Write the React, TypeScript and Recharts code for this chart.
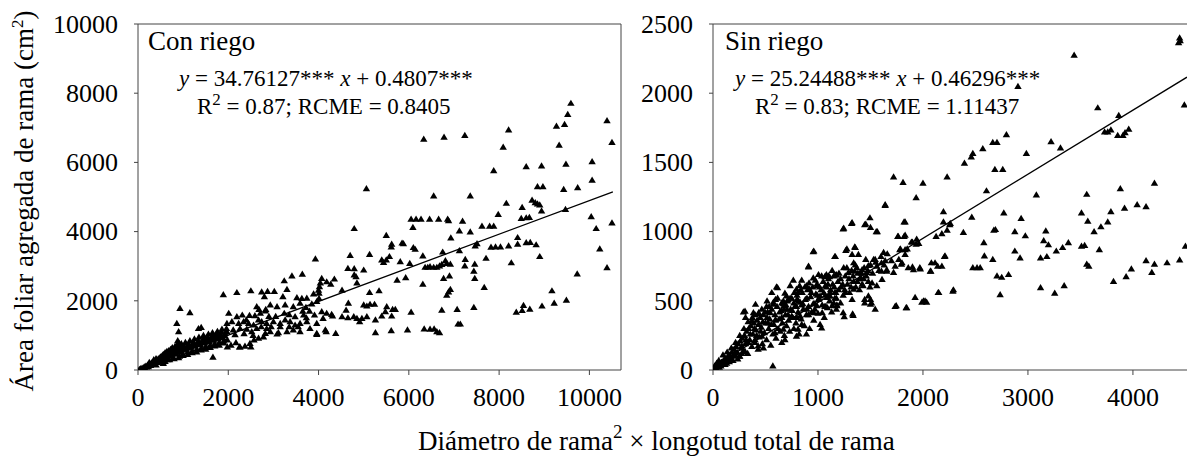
import React from "react";
import { ScatterChart, Scatter, XAxis, YAxis, ReferenceLine } from "recharts";

const FONT = '"Liberation Serif", "Times New Roman", Times, serif';

// ---------- Con riego (left panel) ----------
const conXTicks = [0, 2000, 4000, 6000, 8000, 10000];
const conYTicks = [0, 2000, 4000, 6000, 8000, 10000];
const conXMax = 10700;
const conYMax = 10000;
const conFit = [{ x: 0, y: 35 }, { x: 10520, y: 5150 }];

const conTop: [number, number][] = [
  [9590, 7710], [9520, 7390], [9270, 7050], [9450, 7100], [10390, 7210], [8210, 6940],
  [6330, 6670], [6780, 6730], [7240, 6780], [8090, 6440], [9330, 6500], [10500, 6580],
];

const conUpper: [number, number][] = [
  [10060, 6020], [9480, 5950], [8940, 5900], [8600, 5880], [7880, 5760], [10060, 5490], [8850, 5300],
  [8970, 5300], [9740, 5270], [9430, 5220], [5060, 5240], [6550, 5030], [7360, 5030], [8160, 4820],
  [8730, 4910], [8800, 4840], [8850, 4800], [8900, 4770], [8510, 4700], [9470, 4640], [8940, 4600],
  [7980, 4500], [8490, 4380], [8600, 4400], [8670, 4410], [10040, 4430], [6050, 4360], [6160, 4360],
  [6270, 4360], [6460, 4360], [6660, 4360], [6860, 4360], [6880, 4320], [7190, 4300], [6090, 4120],
  [7620, 4160], [7790, 4160], [7880, 4160], [10150, 4090], [4790, 4090], [7120, 4020], [7360, 3990],
  [10500, 4250], [5500, 3890], [6930, 3820], [8410, 3830], [5850, 3670], [5880, 3650], [5620, 3640],
  [5610, 3560], [7510, 3650], [7470, 3590], [8410, 3640], [8600, 3680], [8690, 3690], [8820, 3620],
  [7820, 3550], [7920, 3560], [8030, 3560], [8210, 3590], [6100, 3540], [6140, 3490], [10230, 3500],
  [7120, 3450], [6750, 3410], [5130, 3340], [4700, 3310], [5570, 3280], [8900, 3280], [7710, 3230],
  [3930, 3210], [5400, 3180], [5500, 3180], [5440, 3110], [5810, 3130], [6020, 3080], [7250, 3200],
  [7240, 3010], [7460, 3060], [8270, 3100], [6810, 3160], [6840, 3080], [6730, 3050], [6920, 3060],
  [4650, 2940], [4790, 2930], [5000, 2890], [6310, 3300], [6360, 2970], [6420, 2970], [6470, 2990],
  [6550, 2970], [6620, 2970], [6680, 3010], [7440, 2860], [10390, 2960], [4790, 2750], [4830, 2700],
  [7460, 2650], [5740, 2600], [5930, 2670], [9730, 2780], [6900, 2720], [6770, 2650], [4850, 2520],
  [7670, 2390], [6310, 2480], [9170, 2290], [3640, 2770], [3410, 2720], [3240, 2580], [5130, 2240],
  [5340, 2290], [5480, 1690], [6920, 2330], [6880, 2260], [6840, 2160], [9490, 2020], [9220, 1930],
  [8950, 1850], [8540, 1870], [8680, 1760], [8510, 1720], [8380, 1670], [7440, 1810], [7070, 1750],
  [6730, 1730], [6050, 1670], [5000, 1880], [5140, 1900], [5240, 1900], [5070, 1850], [4660, 1930],
  [4610, 1730], [4520, 1540], [4650, 1510], [4780, 1540], [4850, 1490], [4960, 1490], [5070, 1540],
  [4910, 1400], [5260, 1450], [5400, 1560], [5620, 1560], [5640, 1750], [5510, 1830], [5700, 1750],
  [7090, 1330], [7140, 1330], [5970, 1160], [6340, 1190], [6470, 1180], [6560, 1190], [6620, 1110],
  [6680, 1080], [5610, 1140], [5260, 1080], [4380, 1060], [4170, 1110], [3960, 1030], [4310, 1560],
];

const conMid: [number, number][] = [
  [1890, 2180], [2190, 2240], [2500, 2290], [2740, 2260], [2870, 2270], [3020, 2270], [2800, 2120],
  [3210, 2120], [3300, 2330], [3520, 2090], [3630, 2070], [3740, 2080], [3890, 2200], [4000, 2310],
  [4070, 2650], [4180, 2550], [4350, 2630], [4270, 2480], [4520, 2310], [4040, 2520], [4020, 2410],
  [4010, 2220], [4010, 2070], [3960, 1980], [2010, 1640], [2190, 1540], [2310, 1590], [2470, 1580],
  [2590, 1570], [2710, 1640], [2820, 1710], [2930, 1880], [2630, 1830], [2680, 1750], [2830, 1750],
  [3080, 1830], [3260, 1880], [3440, 1830], [3590, 1930], [3720, 1810], [3850, 1910], [3240, 1640],
  [3480, 1540], [3670, 1590], [3730, 1510], [3910, 1590], [4070, 1690], [4180, 1640], [4290, 1610],
  [1970, 1350], [2080, 1400], [2230, 1350], [2340, 1400], [2450, 1350], [2560, 1300], [2670, 1450],
  [2740, 1400], [2850, 1350], [3000, 1400], [3150, 1350], [3260, 1450], [3370, 1400], [3480, 1300],
  [3590, 1350], [3740, 1400], [3960, 1350], [4100, 1490], [1970, 1110], [2110, 1160], [2260, 1200],
  [2410, 1180], [2520, 1110], [2630, 1200], [2730, 1250], [2850, 1200], [2930, 1110], [3110, 1080],
  [3300, 1110], [3440, 1160], [3590, 1110], [3810, 1200], [3960, 1060], [4150, 1160], [1980, 870],
  [2060, 720], [2170, 790], [2260, 670], [2370, 690], [2480, 770], [2570, 870], [2670, 920],
  [2780, 960], [2820, 1060], [3080, 1040], [1980, 670], [2250, 670], [2500, 670],
  [930, 1780], [1150, 1660], [860, 1350], [900, 1110], [880, 850], [910, 770], [1340, 1200],
  [1400, 1230], [1660, 370], [560, 190], [1820, 960],
  [2150, 1020], [2350, 1050], [2550, 1000], [2950, 1250], [3150, 1250], [3350, 1250], [3550, 1250],
  [3050, 1550], [3350, 1600], [2900, 1550], [2400, 1450], [3650, 1700], [3800, 1700],
];

const conBand: [number, number][] = [
  [30, 20], [60, 40], [90, 55], [100, 30], [130, 80], [150, 60], [160, 110], [190, 90], [210, 140],
  [230, 100], [260, 180], [280, 130], [300, 210], [320, 160], [340, 240], [360, 190], [380, 260],
  [400, 150], [410, 300], [430, 220], [450, 330], [470, 260], [490, 360], [510, 300], [530, 400],
  [550, 230], [560, 450], [580, 340], [600, 500], [620, 380], [640, 540], [660, 300], [680, 560],
  [700, 420], [720, 600], [740, 480], [760, 650], [780, 350], [800, 540], [820, 680], [840, 460],
  [860, 600], [880, 720], [900, 520], [920, 400], [940, 660], [960, 760], [980, 580], [1000, 450],
  [1020, 700], [1050, 800], [1070, 620], [1100, 520], [1120, 740], [1150, 850], [1170, 660],
  [1200, 560], [1220, 780], [1250, 900], [1270, 700], [1300, 600], [1330, 820], [1350, 950],
  [1380, 740], [1400, 640], [1430, 860], [1450, 1000], [1480, 780], [1500, 680], [1530, 900],
  [1560, 1040], [1580, 820], [1600, 720], [1630, 940], [1650, 1080], [1680, 860], [1700, 760],
  [1730, 980], [1760, 1120], [1780, 900], [1800, 800], [1830, 1020], [1860, 1180], [1880, 940],
  [1900, 840], [1930, 1060], [1960, 1200],
  [250, 220], [350, 300], [450, 250], [550, 420], [650, 480], [750, 560], [850, 700], [950, 520],
  [1050, 600], [1150, 700], [1250, 760], [1350, 820], [1450, 900], [1550, 950], [1650, 990],
  [1750, 1050], [1850, 1100], [700, 300], [900, 360], [1100, 450], [1300, 520], [1500, 600],
  [1700, 700], [1900, 780], [600, 250], [800, 330], [1000, 420], [1200, 500], [1400, 580],
  [1600, 650], [1800, 720], [400, 330], [500, 380], [620, 460], [720, 520], [820, 580], [920, 620],
  [1020, 650], [1120, 680], [1220, 720], [1320, 760], [1420, 800], [1520, 840], [1620, 880],
  [1720, 920], [1820, 960], [1920, 1000],
];

// ---------- Sin riego (right panel) ----------
const sinXTicks = [0, 1000, 2000, 3000, 4000];
const sinYTicks = [0, 500, 1000, 1500, 2000, 2500];
const sinXMax = 4515;
const sinYMax = 2500;
const sinFit = [{ x: 0, y: 25 }, { x: 4515, y: 2116 }];

const sinSpread: [number, number][] = [
  [4445, 2400], [4450, 2380], [4435, 2365], [3440, 2275], [2905, 2050], [3665, 1895], [4490, 1915],
  [3865, 1840], [3730, 1720], [3760, 1720], [3790, 1735], [3855, 1695], [3905, 1695], [3925, 1715],
  [3960, 1740], [2795, 1700], [2665, 1645], [2705, 1645], [2570, 1600], [2475, 1565], [2460, 1540],
  [2395, 1495], [3220, 1650], [3310, 1605], [2985, 1565], [2685, 1450], [2760, 1450], [1720, 1395],
  [1810, 1355], [2000, 1350], [2230, 1395], [1935, 1245], [2605, 1295], [3080, 1265], [4205, 1350],
  [3560, 1270], [3880, 1310], [4040, 1195], [4125, 1180], [3920, 1170], [3790, 1145], [3510, 1135],
  [3570, 1075], [3760, 1070], [3695, 1035], [3630, 1000], [2770, 1135], [2935, 1095], [2465, 1105],
  [1640, 1195], [2195, 1145], [2195, 1070], [1820, 1070], [1555, 1000], [1760, 965], [1820, 965],
  [1245, 1025], [1325, 1065], [1455, 1055], [1500, 1030], [2230, 1010], [2260, 1060], [2385, 995],
  [2675, 1010], [2690, 1015], [2875, 1000], [2975, 970], [3170, 1005], [3150, 935], [3195, 905],
  [3270, 860], [3330, 885], [3385, 920], [3510, 895], [3540, 900], [3560, 765], [3580, 750],
  [3680, 870], [3120, 810], [3180, 820], [2875, 860], [2925, 810], [2580, 920], [2585, 825],
  [2665, 800], [2475, 740], [2515, 740], [2545, 740], [2705, 680], [2750, 670], [2815, 690],
  [3120, 595], [3255, 555], [3345, 610], [2735, 545], [3815, 640], [3935, 675], [3985, 730],
  [4125, 790], [4205, 765], [4180, 705], [4325, 775], [4445, 795], [4500, 895], [2150, 560],
  [2285, 570], [1925, 525], [1990, 490], [2020, 500], [1745, 465], [1840, 450], [1785, 875],
  [1850, 875], [1935, 910], [1960, 915], [1890, 925], [1830, 835], [1770, 800], [1800, 775],
  [2070, 715], [2140, 750], [2205, 820], [2080, 775], [1900, 745], [1975, 730], [1625, 850],
  [1640, 790], [1530, 800], [1560, 750], [1480, 755], [1355, 885], [1325, 835], [1275, 875],
  [1165, 820], [1245, 740], [1370, 740], [1405, 705], [1465, 705], [1515, 630], [1430, 610],
  [1500, 510], [1445, 485], [1500, 475], [1560, 610], [1655, 715], [1720, 705], [1610, 655],
  [1340, 585], [1260, 560], [1405, 670], [1325, 510], [1215, 485], [1250, 385], [1330, 405],
  [1180, 465], [1135, 465], [960, 860], [910, 750], [1005, 690], [1080, 690], [1110, 675],
  [1165, 685], [1070, 610], [995, 610], [920, 585], [890, 610], [825, 610], [1020, 535],
  [1085, 525], [1115, 535], [1150, 485], [990, 465], [1040, 415], [960, 415], [845, 470],
  [895, 440], [830, 390], [770, 485], [700, 535], [615, 595], [560, 560], [595, 510], [675, 465],
  [705, 440], [750, 390], [800, 510], [735, 610], [655, 485], [515, 500], [465, 440], [435, 405],
  [370, 355], [545, 415], [595, 365], [385, 415], [435, 415], [290, 420], [310, 380], [405, 475],
  [570, 30],
];

const sinMid: [number, number][] = [
  [1640, 1190], [1495, 1100], [1320, 1060], [1240, 1020], [1445, 1050], [1565, 1000], [1830, 1070],
  [2255, 1050], [1765, 965], [1830, 975], [1900, 925], [1940, 945], [2125, 965], [2180, 985],
  [1780, 870], [1830, 870], [955, 855], [1160, 820], [1265, 865], [1350, 890], [1385, 835],
  [910, 745], [765, 650], [845, 650], [605, 600], [685, 555], [795, 585], [810, 560], [575, 475],
  [305, 425], [400, 400], [510, 460], [670, 500], [715, 510], [955, 665], [1065, 675], [1100, 680],
  [1175, 690], [1290, 705], [1350, 715], [1420, 725], [1545, 800], [1605, 775], [1340, 775],
  [1605, 715], [1655, 725], [1735, 750], [1795, 765], [1860, 740], [1910, 725], [1970, 740],
  [2075, 715], [2115, 775], [2180, 750], [2210, 825], [1445, 510], [1480, 535], [1510, 485],
  [1545, 440], [1335, 395], [1240, 415], [1175, 440], [1035, 305], [750, 380], [795, 380],
  [890, 260], [795, 245], [685, 220], [655, 200], [480, 160], [430, 175], [255, 100], [305, 135],
  [1735, 460], [1845, 450], [2005, 500], [2035, 490], [2145, 560], [2290, 580], [1100, 535],
  [1160, 560], [1005, 510], [970, 440], [1065, 460], [910, 400], [845, 330], [810, 295], [670, 295],
  [590, 270], [525, 340], [465, 245], [400, 220], [335, 200], [275, 175], [210, 125], [145, 100],
  [80, 55], [20, 15], [50, 30],
];

const sinBand: [number, number][] = [
  [10, 8], [20, 15], [30, 10], [40, 25], [50, 35], [60, 20], [70, 45], [80, 55], [90, 40], [100, 70],
  [110, 60], [120, 85], [130, 50], [140, 95], [150, 75], [160, 110], [170, 90], [180, 130], [190, 70],
  [200, 150], [210, 110], [220, 170], [230, 130], [240, 190], [250, 100], [260, 210], [270, 160],
  [280, 230], [290, 140], [300, 250], [310, 190], [320, 280], [330, 120], [340, 300], [350, 220],
  [360, 320], [370, 170], [380, 260], [390, 340], [400, 200], [410, 290], [420, 360], [430, 150],
  [440, 240], [450, 380], [460, 310], [470, 190], [480, 400], [490, 270], [500, 340], [510, 220],
  [520, 420], [530, 300], [540, 370], [550, 180], [560, 440], [570, 260], [580, 330], [590, 400],
  [600, 230], [610, 460], [620, 300], [630, 370], [640, 280], [650, 430], [660, 340], [670, 480],
  [680, 250], [690, 400], [700, 320], [710, 500], [720, 360], [730, 280], [740, 440], [750, 520],
  [760, 380], [770, 300], [780, 460], [790, 340], [800, 540], [810, 420], [820, 260], [830, 490],
  [840, 370], [850, 560], [860, 440], [870, 320], [880, 510], [890, 400], [900, 580], [910, 460],
  [920, 300], [930, 530], [940, 420], [950, 600], [960, 360], [970, 480], [980, 550], [990, 620],
  [1000, 410], [1010, 520], [1020, 330], [1030, 580], [1040, 470], [1050, 640], [1060, 380],
  [1070, 540], [1080, 600], [1090, 450], [1100, 660], [1110, 500], [1120, 580], [1130, 420],
  [1140, 620], [1150, 680], [1160, 520], [1170, 560], [1180, 470], [1190, 640], [1200, 700],
  [1220, 600], [1240, 540], [1260, 680], [1280, 620], [1300, 560], [1320, 720], [1340, 640],
  [1360, 600], [1380, 700], [1400, 660], [1420, 620], [1440, 740], [1460, 680], [1480, 640],
  [1500, 760], [1520, 700], [1550, 780], [1580, 720], [1600, 820], [1630, 760], [1660, 840],
  [1700, 790],
  [15, 30], [35, 50], [55, 70], [75, 30], [95, 110], [115, 40], [135, 130], [155, 60], [175, 160],
  [195, 100], [215, 200], [235, 80], [255, 250], [275, 120], [295, 300], [315, 220], [335, 350],
  [355, 260], [375, 380], [395, 300], [415, 250], [435, 330], [455, 280], [475, 350], [495, 420],
  [515, 380], [535, 460], [555, 330], [575, 490], [595, 360], [615, 520], [635, 420], [655, 380],
  [675, 440], [695, 470], [715, 400], [735, 520], [755, 430], [775, 560], [795, 460], [815, 500],
  [835, 580], [855, 480], [875, 600], [895, 520], [915, 630], [935, 560], [955, 480], [975, 650],
  [995, 540], [1015, 600], [1035, 680], [1055, 560], [1075, 460], [1095, 620], [1115, 560],
  [1135, 720], [1155, 600], [1175, 520], [1195, 580], [1215, 660], [1235, 620], [1255, 580],
  [1275, 740], [1295, 660], [1315, 600], [1335, 680], [1355, 760], [1375, 640], [1395, 580],
  [1415, 700], [1435, 660], [1455, 800], [1475, 720], [1495, 600],
];

const toRows = (...groups: [number, number][][]) =>
  groups.flat().map(([x, y]) => ({ x, y }));

const conData = toRows(conBand, conMid, conUpper, conTop);
const sinData = toRows(sinBand, sinMid, sinSpread);

const Tri = (props: any) => {
  const { cx, cy } = props;
  if (cx == null || cy == null) return null;
  return (
    <path
      d={`M${cx},${cy - 3.6}L${cx + 3.7},${cy + 2.6}L${cx - 3.7},${cy + 2.6}Z`}
      fill="#000"
    />
  );
};

const XTick = (props: any) => {
  const { x, y, payload } = props;
  return (
    <text x={x} y={y} dy="0.71em" textAnchor="middle" fontFamily={FONT} fontSize={26} fill="#000">
      {payload.value}
    </text>
  );
};

const YTick = (props: any) => {
  const { x, y, payload } = props;
  return (
    <text x={x} y={y} dy="0.34em" textAnchor="end" fontFamily={FONT} fontSize={26} fill="#000">
      {payload.value}
    </text>
  );
};

const AX = "#444";

export default function App() {
  return (
    <div
      style={{
        position: "absolute",
        left: 0,
        top: 0,
        width: 1187,
        height: 460,
        background: "#fff",
        overflow: "hidden",
        fontFamily: FONT,
      }}
    >
      <div style={{ position: "absolute", left: 0, top: 0 }}>
        <ScatterChart width={640} height={460} margin={{ top: 24, right: 19, bottom: 30, left: 0 }}>
          <XAxis
            type="number"
            dataKey="x"
            domain={[0, conXMax]}
            ticks={conXTicks}
            interval={0}
            allowDataOverflow
            height={60}
            tickSize={5}
            tickMargin={13}
            stroke={AX}
            tick={XTick}
          />
          <YAxis
            type="number"
            dataKey="y"
            domain={[0, conYMax]}
            ticks={conYTicks}
            interval={0}
            allowDataOverflow
            width={138}
            tickSize={4}
            tickMargin={16}
            stroke={AX}
            tick={YTick}
          />
          <ReferenceLine y={conYMax} stroke={AX} strokeWidth={1} />
          <ReferenceLine x={conXMax} stroke={AX} strokeWidth={1} />
          <ReferenceLine segment={conFit} stroke="#000" strokeWidth={1.3} ifOverflow="visible" />
          <Scatter data={conData} shape={Tri} isAnimationActive={false} />
        </ScatterChart>
      </div>
      <div style={{ position: "absolute", left: 620, top: 0 }}>
        <ScatterChart width={567} height={460} margin={{ top: 24, right: 0, bottom: 30, left: 0 }}>
          <XAxis
            type="number"
            dataKey="x"
            domain={[0, sinXMax]}
            ticks={sinXTicks}
            interval={0}
            allowDataOverflow
            height={60}
            tickSize={5}
            tickMargin={13}
            stroke={AX}
            tick={XTick}
          />
          <YAxis
            type="number"
            dataKey="y"
            domain={[0, sinYMax]}
            ticks={sinYTicks}
            interval={0}
            allowDataOverflow
            width={93}
            tickSize={4}
            tickMargin={16}
            stroke={AX}
            tick={YTick}
          />
          <ReferenceLine y={sinYMax} stroke={AX} strokeWidth={1} />
          <ReferenceLine segment={sinFit} stroke="#000" strokeWidth={1.3} ifOverflow="visible" />
          <Scatter data={sinData} shape={Tri} isAnimationActive={false} />
        </ScatterChart>
      </div>
      <svg
        width={1187}
        height={460}
        style={{ position: "absolute", left: 0, top: 0, pointerEvents: "none" }}
        fontFamily={FONT}
        fill="#000"
      >
        <text transform="translate(33,201) rotate(-90)" textAnchor="middle" fontSize={27}>
          {"Área foliar agregada de rama (cm"}
          <tspan dy={-10} fontSize={17}>2</tspan>
          <tspan dy={10}>)</tspan>
        </text>
        <text x={418} y={450} fontSize={27}>
          {"Diámetro de rama"}
          <tspan dy={-12} fontSize={19}>2</tspan>
          <tspan dy={12}>{" × longotud total de rama"}</tspan>
        </text>

        <text x={148} y={50} fontSize={27}>Con riego</text>
        <text x={179} y={86} fontSize={23}>
          <tspan fontStyle="italic">y</tspan>
          <tspan>{" = 34.76127*** "}</tspan>
          <tspan fontStyle="italic">x</tspan>
          <tspan>{" + 0.4807***"}</tspan>
        </text>
        <text x={197} y={114} fontSize={23}>
          {"R"}
          <tspan dy={-9} fontSize={17}>2</tspan>
          <tspan dy={9}>{" = 0.87; RCME = 0.8405"}</tspan>
        </text>

        <text x={725} y={50} fontSize={27}>Sin riego</text>
        <text x={735} y={86} fontSize={23}>
          <tspan fontStyle="italic">y</tspan>
          <tspan>{" = 25.24488*** "}</tspan>
          <tspan fontStyle="italic">x</tspan>
          <tspan>{" + 0.46296***"}</tspan>
        </text>
        <text x={755} y={114} fontSize={23}>
          {"R"}
          <tspan dy={-9} fontSize={17}>2</tspan>
          <tspan dy={9}>{" = 0.83; RCME = 1.11437"}</tspan>
        </text>
      </svg>
    </div>
  );
}
